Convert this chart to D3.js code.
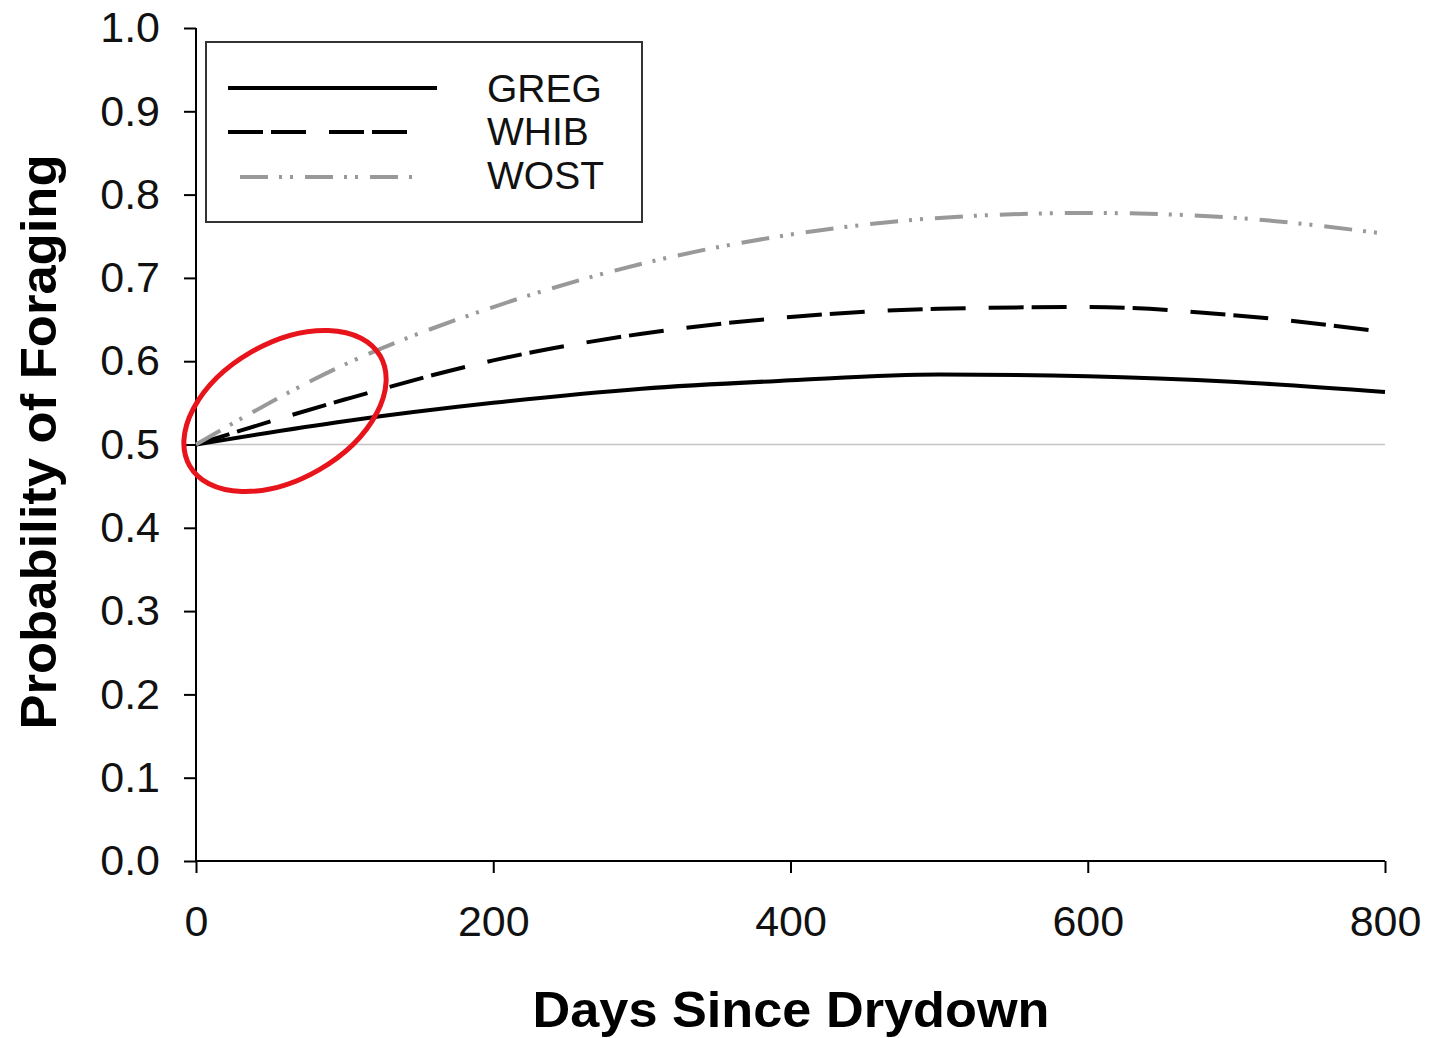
<!DOCTYPE html>
<html>
<head>
<meta charset="utf-8">
<script src="https://cdn.jsdelivr.net/npm/d3@7"></script>
<style>
  html, body { margin: 0; padding: 0; background: #fff; }
  svg { display: block; font-family: "Liberation Sans", Arial, sans-serif; }
</style>
</head>
<body>
<svg id="chart" width="1429" height="1038"></svg>
<script>
// ---- data ----
const days = [0, 100, 200, 300, 400, 500, 600, 700, 800];
const greg = [0.500, 0.528, 0.550, 0.567, 0.577, 0.584, 0.582, 0.575, 0.563];
const whib = [0.500, 0.554, 0.601, 0.633, 0.653, 0.663, 0.665, 0.655, 0.635];
const wost = [0.500, 0.596, 0.665, 0.717, 0.752, 0.772, 0.778, 0.772, 0.753];
const seriesNames = ["GREG", "WHIB", "WOST"];
const xTicks = [0, 200, 400, 600, 800];
const yTicks = [0, 0.1, 0.2, 0.3, 0.4, 0.5, 0.6, 0.7, 0.8, 0.9, 1.0];
const refValue = 0.5;

const styles = {
  GREG: { color: "#000", dash: null, width: 4 },
  WHIB: { color: "#000", dash: "35 8 35 23", width: 4 },
  WOST: { color: "#999", dash: "28 11 3 8 3 12", width: 4 }
};
const seriesValues = { GREG: greg, WHIB: whib, WOST: wost };

const svg = d3.select("#chart");
const x = d3.scaleLinear().domain([0, 800]).range([196, 1385]);
const y = d3.scaleLinear().domain([0, 1]).range([861, 28]);

// reference line at 0.5
svg.append("line")
  .attr("x1", x(0)).attr("x2", x(800))
  .attr("y1", y(refValue)).attr("y2", y(refValue))
  .attr("stroke", "#c4c4c4").attr("stroke-width", 1.5);

// axes
const yAxis = d3.axisLeft(y).tickValues(yTicks).tickFormat(d3.format(".1f"))
  .tickSize(12).tickPadding(24);
const gy = svg.append("g").attr("transform", `translate(${x(0)},0)`).call(yAxis);
const xAxis = d3.axisBottom(x).tickValues(xTicks).tickFormat(d3.format("d"))
  .tickSize(12).tickPadding(32);
const gx = svg.append("g").attr("transform", `translate(0,${y(0)})`).call(xAxis);

[gx, gy].forEach(g => {
  g.select(".domain").attr("stroke", "#000").attr("stroke-width", 2);
  g.selectAll(".tick line").attr("stroke", "#000").attr("stroke-width", 2);
  g.selectAll(".tick text").attr("fill", "#111")
    .style("font-family", '"Liberation Sans", Arial, sans-serif')
    .style("font-size", "43px");
});
gy.select(".domain").attr("d", `M-0,${y(1)}V${y(0)}`);
gx.select(".domain").attr("d", `M${x(0)},0H${x(800)}`);

// lines
const line = d3.line().x(d => x(d[0])).y(d => y(d[1])).curve(d3.curveMonotoneX);
seriesNames.forEach(name => {
  const st = styles[name];
  const pts = days.map((d, i) => [d, seriesValues[name][i]]);
  svg.append("path")
    .datum(pts)
    .attr("d", line)
    .attr("fill", "none")
    .attr("stroke", st.color)
    .attr("stroke-width", st.width)
    .attr("stroke-dasharray", st.dash);
});

// axis titles
svg.append("text")
  .attr("x", 791).attr("y", 1027)
  .attr("text-anchor", "middle")
  .attr("font-weight", "bold").attr("font-size", 50)
  .attr("textLength", 517).attr("lengthAdjust", "spacingAndGlyphs")
  .attr("fill", "#000")
  .text("Days Since Drydown");

svg.append("text")
  .attr("transform", "translate(56,442) rotate(-90)")
  .attr("text-anchor", "middle")
  .attr("font-weight", "bold").attr("font-size", 50)
  .attr("textLength", 575).attr("lengthAdjust", "spacingAndGlyphs")
  .attr("fill", "#000")
  .text("Probability of Foraging");

// legend
const lg = svg.append("g");
lg.append("rect")
  .attr("x", 206).attr("y", 42).attr("width", 436).attr("height", 180)
  .attr("fill", "#fff").attr("stroke", "#333").attr("stroke-width", 2);
const legendRows = [
  { name: "GREG", x1: 228, x2: 437, ly: 88, ty: 102 },
  { name: "WHIB", x1: 228, x2: 411, ly: 132, ty: 145 },
  { name: "WOST", x1: 240, x2: 414, ly: 177, ty: 189 }
];
legendRows.forEach(r => {
  const st = styles[r.name];
  lg.append("line")
    .attr("x1", r.x1).attr("x2", r.x2).attr("y1", r.ly).attr("y2", r.ly)
    .attr("stroke", st.color).attr("stroke-width", st.width)
    .attr("stroke-dasharray", st.dash);
  lg.append("text")
    .attr("x", 487).attr("y", r.ty)
    .attr("font-size", 39).attr("fill", "#111")
    .text(r.name);
});

// red annotation ellipse
svg.append("ellipse")
  .attr("cx", 285).attr("cy", 411)
  .attr("rx", 110).attr("ry", 68)
  .attr("transform", "rotate(-30,285,411)")
  .attr("fill", "none").attr("stroke", "#e8141c").attr("stroke-width", 5);
</script>
</body>
</html>
